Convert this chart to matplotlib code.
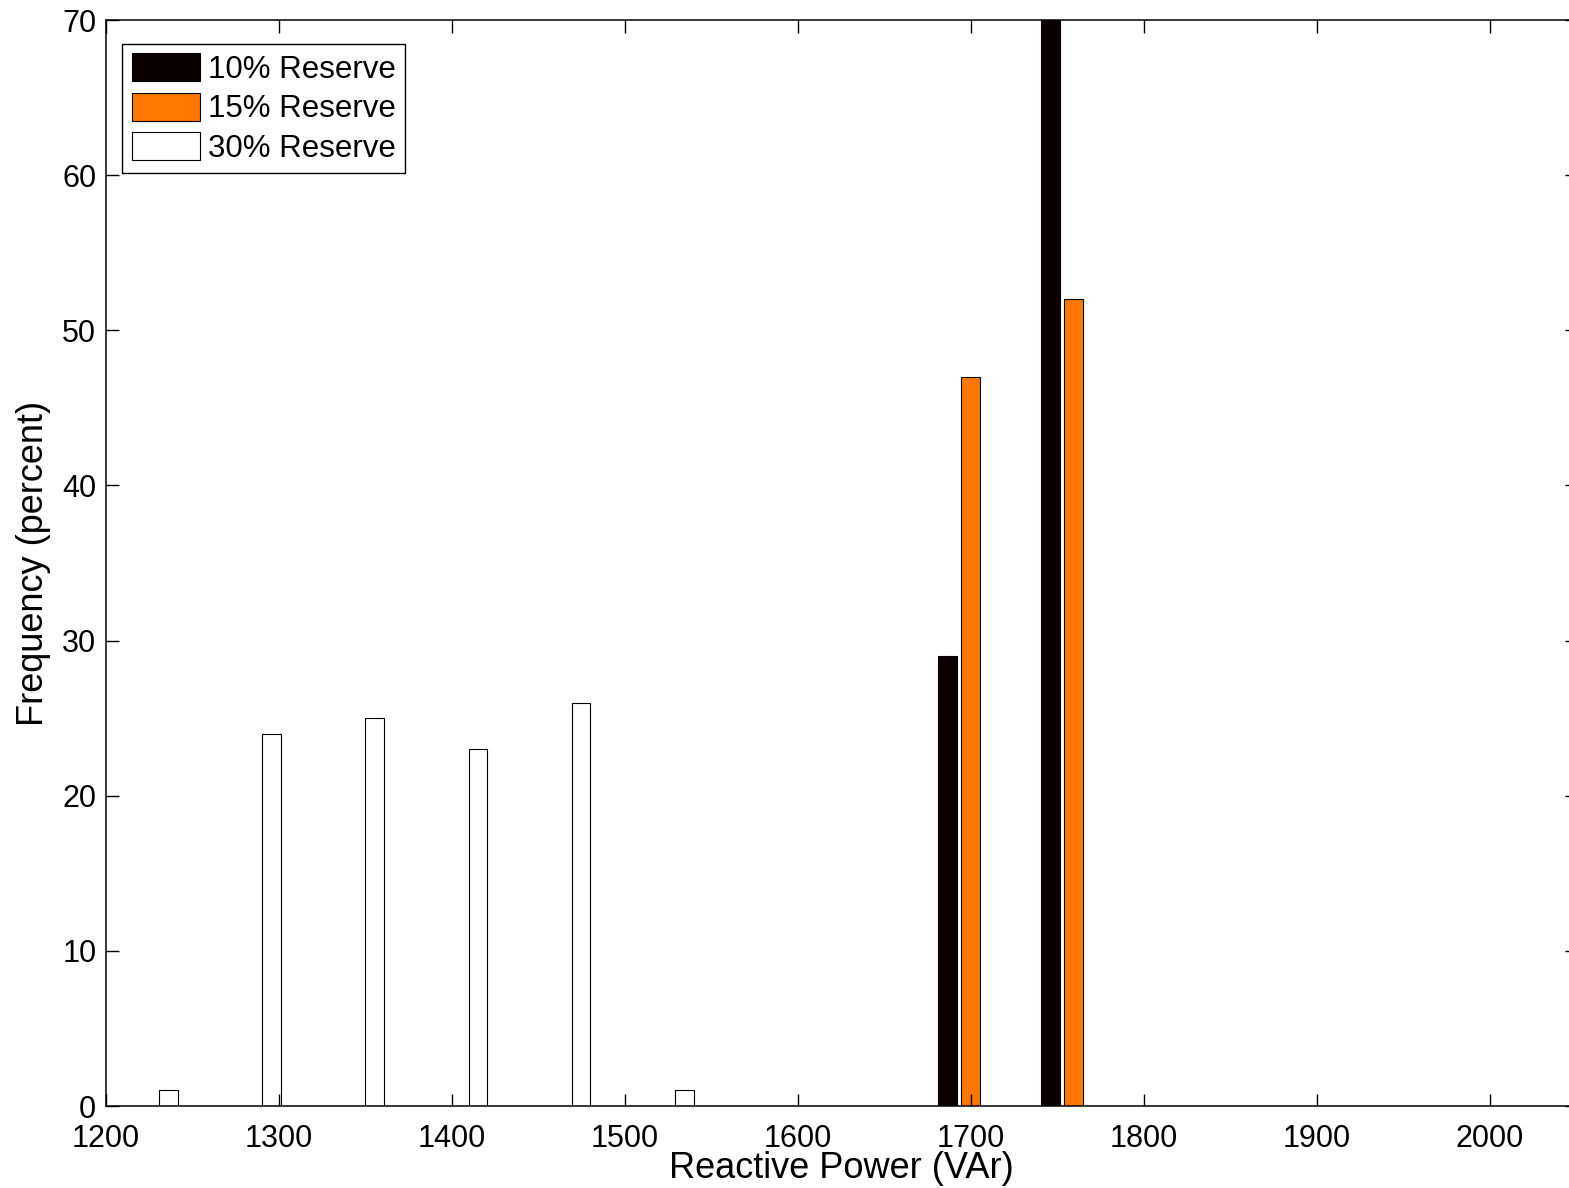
import numpy as np
import matplotlib.pyplot as plt

plt.rcParams['font.family'] = ['Liberation Sans', 'DejaVu Sans']

# bin centres (VAr) and frequencies (percent)
x10 = [1686.6, 1746.1]
f10 = [29, 71]
x15 = [1699.9, 1759.3]
f15 = [47, 52]
x30 = [1236.2, 1295.7, 1355.2, 1415.0, 1474.7, 1534.3]
f30 = [1, 24, 25, 23, 26, 1]

labels = ['10% Reserve', '15% Reserve', '30% Reserve']
colors = ['#0a0000', '#ff7700', 'white']

fig = plt.figure(figsize=(15.69, 11.88), dpi=100)
ax = fig.add_axes([106/1569, 82/1188, 1470.5/1569, 1086/1188])

ax.bar(x10, f10, width=11, color=colors[0], edgecolor='black', linewidth=0.8, label=labels[0])
ax.bar(x15, f15, width=11, color=colors[1], edgecolor='black', linewidth=0.8, label=labels[1])
ax.bar(x30, f30, width=10.6, color=colors[2], edgecolor='black', linewidth=0.8, label=labels[2])

ax.set_xlim(1200, 2050)
ax.set_ylim(0, 70)
ax.set_xticks(np.arange(1200, 2001, 100))
ax.set_yticks(np.arange(0, 71, 10))
ax.tick_params(direction='in', length=9, width=1, top=True, right=True, labelsize=22)
ax.tick_params(axis='x', pad=13)
ax.tick_params(axis='y', pad=7)
for s in ax.spines.values():
    s.set_linewidth(1.1)

ax.set_xlabel('Reactive Power (VAr)', fontsize=26, labelpad=-2)
ax.set_ylabel('Frequency (percent)', fontsize=26, labelpad=8)

leg = ax.legend(loc='upper left', bbox_to_anchor=(0.011, 0.978), borderaxespad=0,
                fontsize=22.5, fancybox=False, edgecolor='black', framealpha=1,
                handlelength=2.2, handleheight=1.0, handletextpad=0.25,
                labelspacing=0.25, borderpad=0.3)
leg.get_frame().set_linewidth(1.0)

fig.savefig('out.png', dpi=100)
